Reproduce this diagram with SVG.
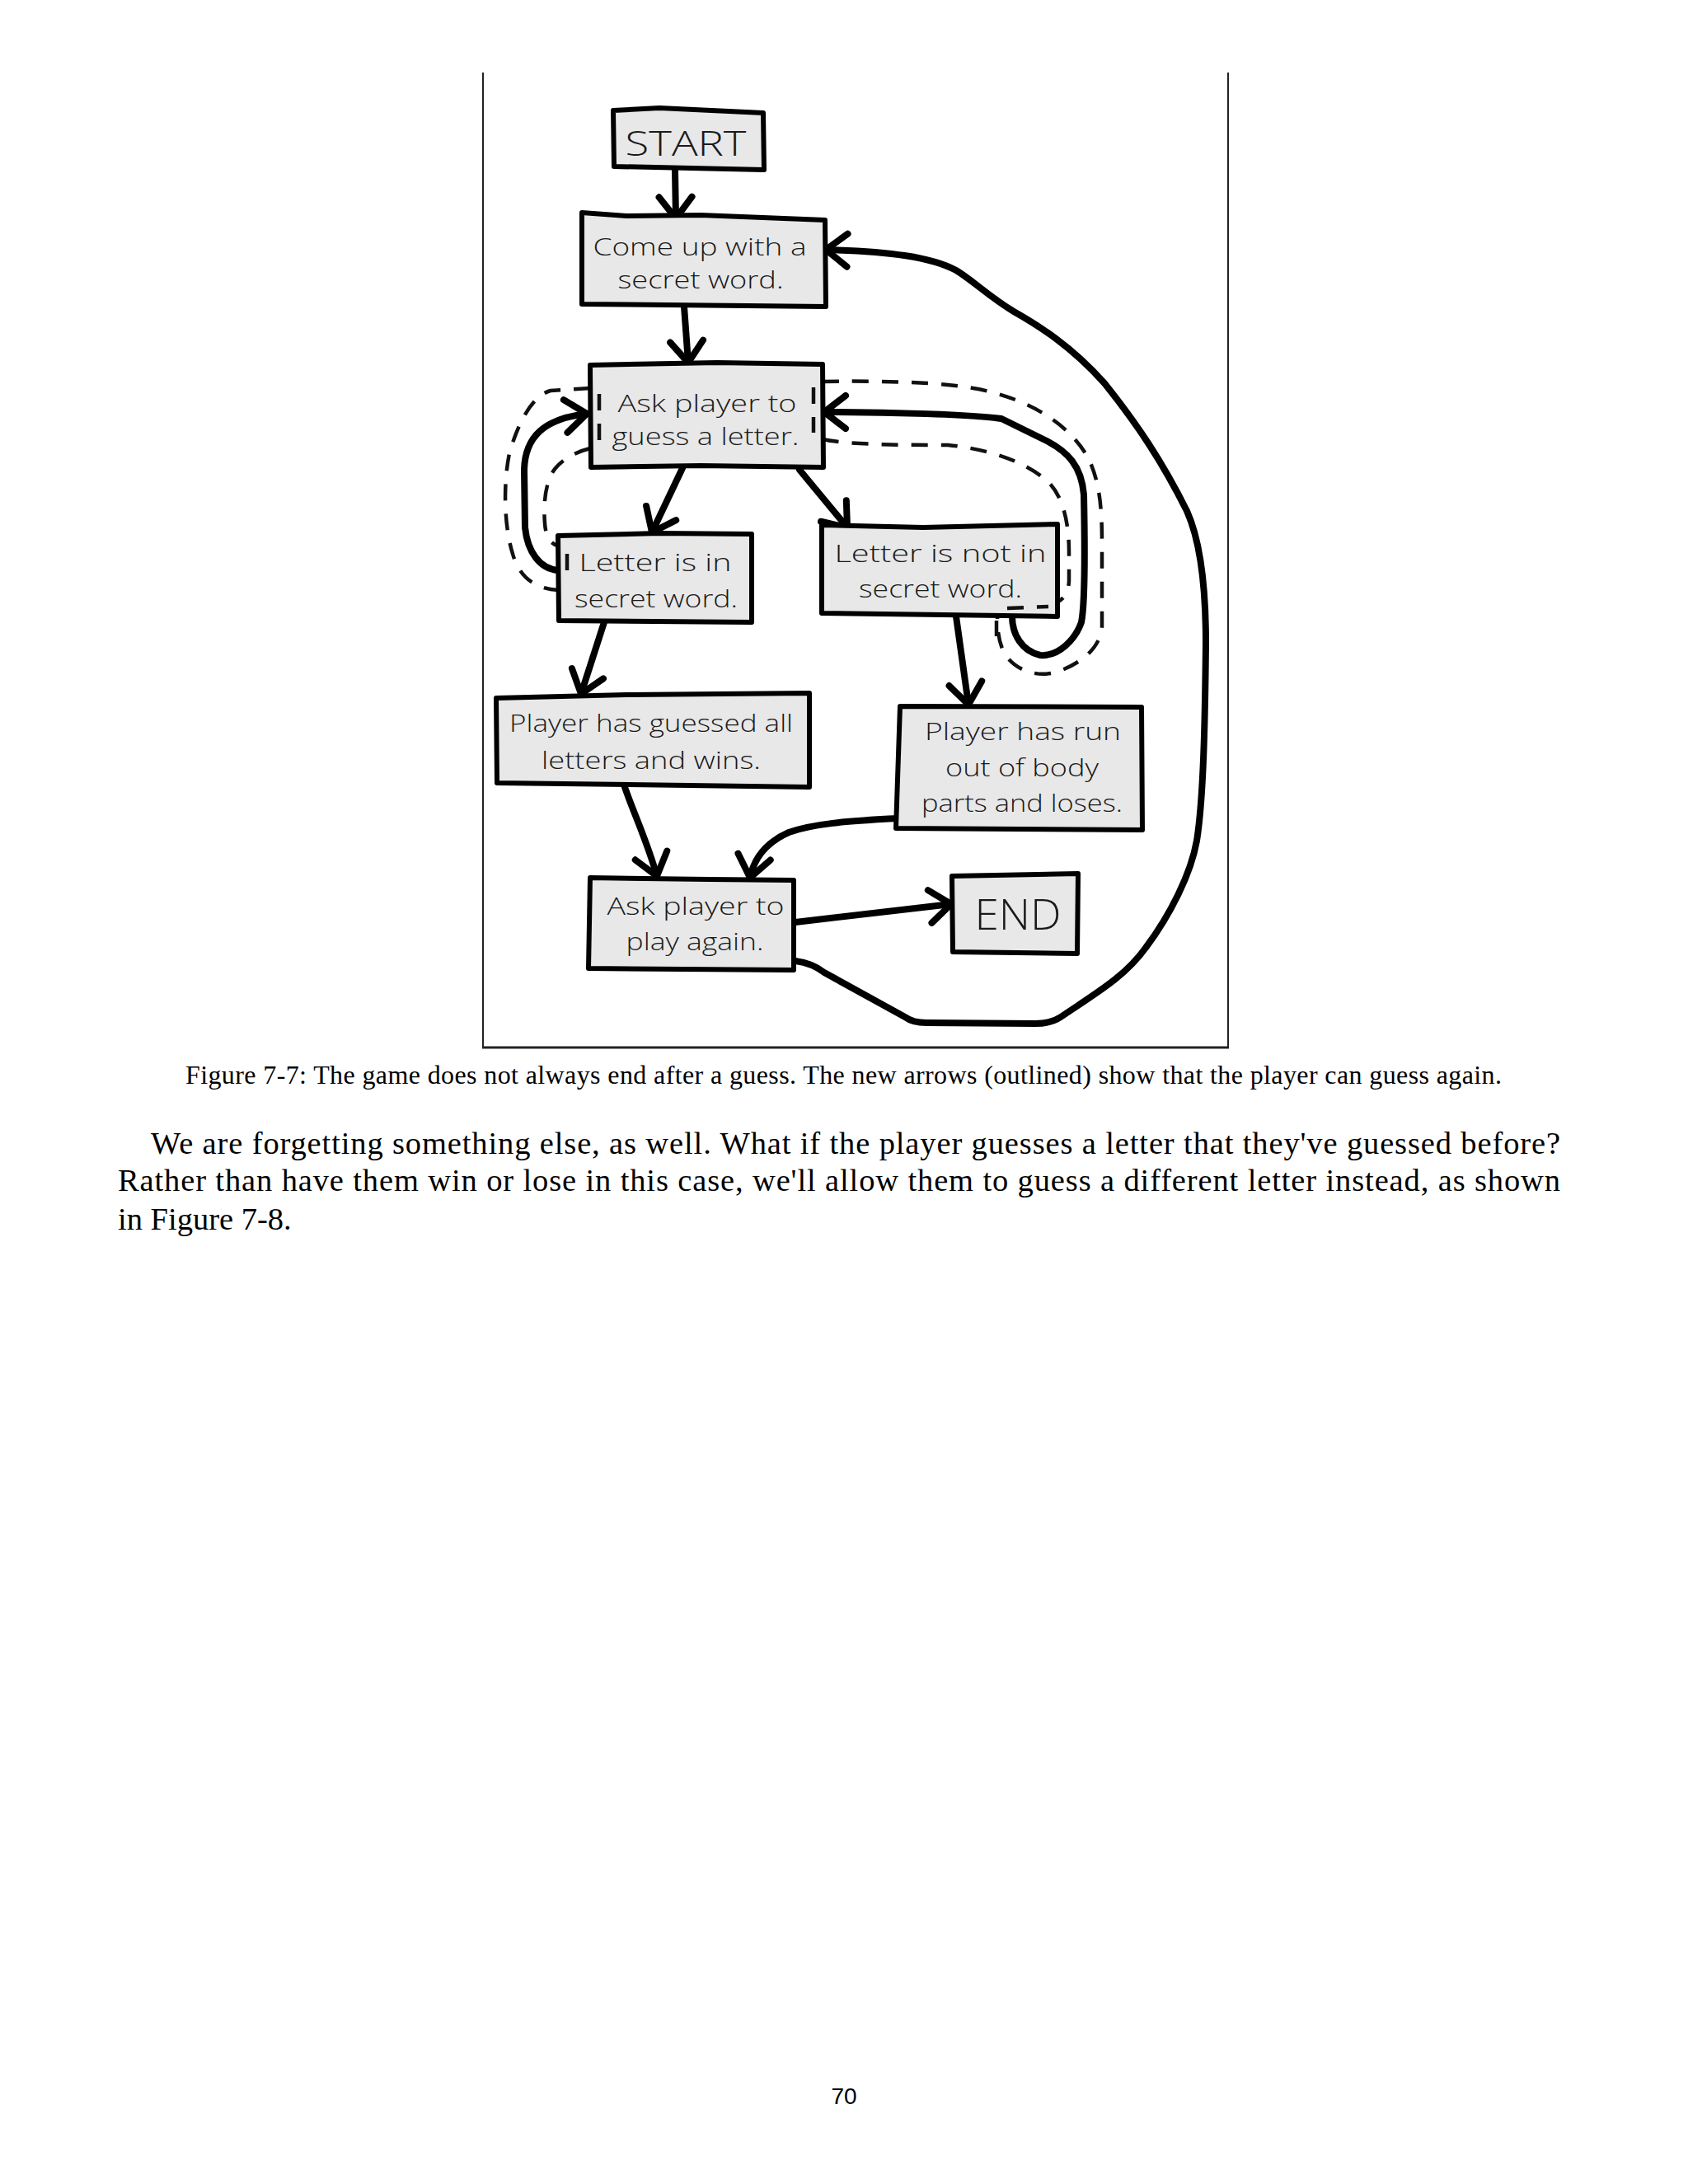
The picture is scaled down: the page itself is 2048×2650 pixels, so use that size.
<svg xmlns="http://www.w3.org/2000/svg" width="2048" height="2650" viewBox="0 0 2048 2650">
<defs>
<marker id="chev" markerUnits="userSpaceOnUse" markerWidth="60" markerHeight="60" viewBox="-40 -30 60 60" refX="0" refY="0" orient="auto">
<path d="M-26,-20 L0,0 L-26,20" fill="none" stroke="#000" stroke-width="8" stroke-linecap="round" stroke-linejoin="round"/>
</marker>
</defs>
<style>
.box{fill:#e8e8e8;stroke:#000;stroke-width:6;stroke-linejoin:round}
.lbl{font-family:"Open Sans","DejaVu Sans",sans-serif;font-weight:300;font-size:30px;fill:#1a1a1a;text-anchor:middle}
.con{fill:none;stroke:#000;stroke-width:8;stroke-linecap:round;stroke-linejoin:round}
.arr{marker-end:url(#chev)}
.dash{fill:none;stroke:#111;stroke-width:4.5;stroke-dasharray:20 16;stroke-linecap:butt}
.serif{font-family:"Liberation Serif","Times New Roman",serif;fill:#000}
</style>
<rect width="2048" height="2650" fill="#fff"/>
<g id="frame" fill="none" stroke="#222">
<path d="M586,88 L586,1271" stroke-width="2"/>
<path d="M1490,88 L1490,1271" stroke-width="2"/>
<path d="M585,1271 L1491,1271" stroke-width="3"/>
</g>
<g id="connectors">
<path class="con arr" d="M819,207 L820,265"/>
<path class="con arr" d="M830,372 L835,440"/>
<path class="con arr" d="M828,568 L791,646"/>
<path class="con arr" d="M970,570 L1028,640"/>
<path class="con arr" d="M733,755 L705,842"/>
<path class="con arr" d="M1160,748 L1175,855"/>
<path class="con arr" d="M758,955 C768,985 785,1020 797,1063"/>
<path class="con arr" d="M1087,993 C1040,996 990,998 957,1010 C930,1022 915,1040 910,1065"/>
<path class="con arr" d="M965,1119 L1154,1097"/>
<path class="con arr" d="M677,692 C655,690 640,670 637,640 L636,570 C637,530 660,508 712,502"/>
<path class="con arr" d="M1228,748 C1228,770 1240,790 1262,795 C1285,797 1305,775 1312,755 C1317,730 1316,650 1315,600 C1312,565 1295,548 1270,535 C1250,525 1235,518 1215,508 C1180,503 1080,500 1000,500"/>
<path class="con arr" d="M965,1166 C980,1168 990,1172 1000,1180 L1098,1234 C1106,1240 1115,1241 1124,1241 L1256,1242 C1268,1242 1278,1240 1287,1234 C1330,1205 1365,1185 1390,1150 C1420,1110 1445,1060 1452,1020 C1460,970 1462,880 1463,780 C1463,720 1458,660 1440,620 C1410,560 1380,515 1340,465 C1300,420 1260,395 1230,378 C1200,360 1180,340 1160,328 C1130,312 1080,305 1002,303"/>
<g id="outlines">
<path class="dash" d="M716,471 L668,474 C645,480 628,515 618,550 C610,590 612,640 622,672 C630,700 648,714 677,716"/>
<path class="dash" d="M716,544 C700,548 684,556 674,568 C662,582 659,610 661,635 C662,650 667,660 677,662"/>
<path class="dash" d="M998,463 C1050,462 1150,462 1200,475 C1260,490 1300,520 1320,555 C1335,585 1337,620 1337,660 L1337,760 C1335,790 1305,808 1280,816 C1255,822 1232,812 1220,795 C1212,782 1210,765 1210,748"/>
<path class="dash" d="M998,533 C1030,540 1100,540 1150,540 C1200,545 1245,560 1272,585 C1292,605 1297,640 1297,670 L1297,705 C1296,725 1285,732 1270,735 L1222,738"/>
</g>
</g>
<g id="start"><path class="box" d="M744,134 L800,131 L926,137 L927,206 L745,202 Z"/><text class="lbl" x="832" y="189" font-size="42" style="font-size:42px" textLength="147" lengthAdjust="spacingAndGlyphs">START</text></g>
<g id="come-up"><path class="box" d="M706,258 L760,262 L850,261 L1001,267 L1002,372 L706,369 Z"/><text class="lbl" x="849" y="310" textLength="259" lengthAdjust="spacingAndGlyphs">Come up with a</text><text class="lbl" x="850" y="350" textLength="201" lengthAdjust="spacingAndGlyphs">secret word.</text></g>
<g id="ask-guess"><path class="box" d="M716,443 L870,440 L998,442 L999,567 L850,565 L717,567 Z"/><text class="lbl" x="858" y="500" textLength="217" lengthAdjust="spacingAndGlyphs">Ask player to</text><text class="lbl" x="856" y="540" textLength="227" lengthAdjust="spacingAndGlyphs">guess a letter.</text><path class="dash" d="M727,478 L727,537"/><path class="dash" d="M987,470 L987,525"/></g>
<g id="letter-in"><path class="box" d="M677,650 L800,647 L912,648 L912,755 L678,753 Z"/><text class="lbl" x="795" y="693" textLength="185" lengthAdjust="spacingAndGlyphs">Letter is in</text><text class="lbl" x="796" y="737" textLength="198" lengthAdjust="spacingAndGlyphs">secret word.</text><path class="dash" d="M688,672 L688,708"/></g>
<g id="letter-not-in"><path class="box" d="M997,637 L1120,640 L1283,636 L1283,748 L997,744 Z"/><text class="lbl" x="1141" y="682" textLength="257" lengthAdjust="spacingAndGlyphs">Letter is not in</text><text class="lbl" x="1141" y="725" textLength="198" lengthAdjust="spacingAndGlyphs">secret word.</text><path class="dash" d="M1222,738 L1272,736"/><path class="dash" d="M1209,753 L1209,772"/></g>
<g id="guessed-all"><path class="box" d="M602,847 L760,843 L982,841 L982,955 L603,950 Z"/><text class="lbl" x="790" y="888" textLength="344" lengthAdjust="spacingAndGlyphs">Player has guessed all</text><text class="lbl" x="790" y="933" textLength="266" lengthAdjust="spacingAndGlyphs">letters and wins.</text></g>
<g id="run-out"><path class="box" d="M1092,857 L1385,858 L1386,1007 L1087,1005 Z"/><text class="lbl" x="1241" y="898" textLength="238" lengthAdjust="spacingAndGlyphs">Player has run</text><text class="lbl" x="1240" y="942" textLength="186" lengthAdjust="spacingAndGlyphs">out of body</text><text class="lbl" x="1240" y="985" textLength="244" lengthAdjust="spacingAndGlyphs">parts and loses.</text></g>
<g id="ask-again"><path class="box" d="M716,1065 L860,1067 L963,1068 L963,1177 L714,1175 Z"/><text class="lbl" x="844" y="1110" textLength="215" lengthAdjust="spacingAndGlyphs">Ask player to</text><text class="lbl" x="843" y="1153" textLength="167" lengthAdjust="spacingAndGlyphs">play again.</text></g>
<g id="end"><path class="box" d="M1155,1063 L1308,1060 L1307,1157 L1156,1155 Z"/><text class="lbl" x="1235" y="1128" style="font-size:52px" textLength="105" lengthAdjust="spacingAndGlyphs">END</text></g>
<g id="page-text">
<text class="serif" x="225" y="1315" font-size="32" textLength="1597" lengthAdjust="spacing">Figure 7-7: The game does not always end after a guess. The new arrows (outlined) show that the player can guess again.</text>
<text class="serif" x="183" y="1400" font-size="38.5" textLength="1710" lengthAdjust="spacing">We are forgetting something else, as well. What if the player guesses a letter that they've guessed before?</text>
<text class="serif" x="143" y="1445" font-size="38.5" textLength="1750" lengthAdjust="spacing">Rather than have them win or lose in this case, we'll allow them to guess a different letter instead, as shown</text>
<text class="serif" x="143" y="1492" font-size="38.5">in Figure 7-8.</text>
<text x="1024" y="2553" font-family="Liberation Sans, Arial, sans-serif" font-size="28" text-anchor="middle" fill="#000">70</text>
</g>
</svg>
